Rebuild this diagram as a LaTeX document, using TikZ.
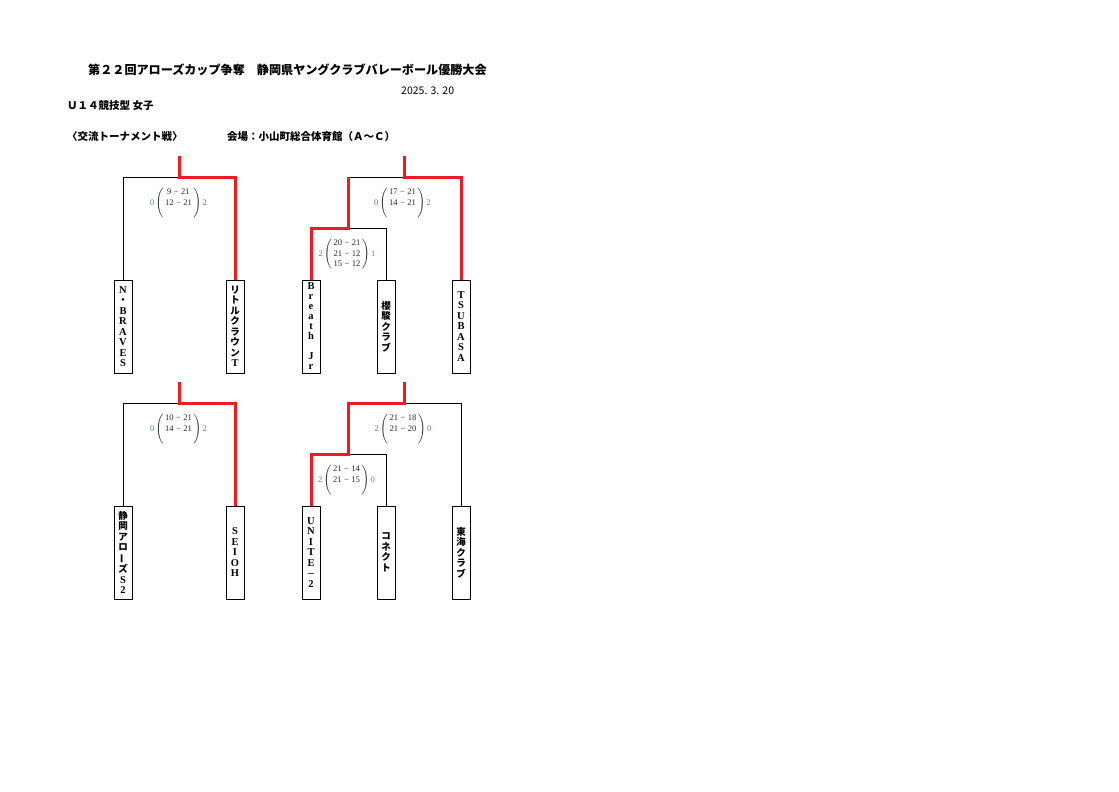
\documentclass[tikz,border=0pt]{standalone}
\usepackage{fontspec}
\usepackage{graphicx}
\newfontfamily\jp{Noto Sans CJK JP}
\newfontfamily\latb{Liberation Serif}
\newcommand\J[1]{{\jp\bfseries\fontsize{9.5}{10.5}\selectfont #1}}
\newcommand\vbar{\rotatebox[origin=c]{90}{\J{ー}}}
\definecolor{brRed}{RGB}{237,28,36}
\definecolor{ablue}{RGB}{68,140,205}
\definecolor{aorange}{RGB}{197,90,17}
\definecolor{scoregray}{RGB}{40,40,40}
\newcommand\mn{\;−\;}
% #1 left number, #2 its colour, #3 rows, #4 right number, #5 its colour
\newcommand\scoreblk[5]{\textcolor{#2}{#1}\,$\left(\mbox{\begin{tabular}{@{\,}c@{\,}}#3\end{tabular}}\right)$\,\textcolor{#5}{#4}}
\begin{document}
\begin{tikzpicture}[x=1pt,y=-1pt,
  blk/.style={line width=0.9pt, draw=black},
  redl/.style={line width=3pt, draw=brRed},
  teambox/.style={draw, line width=0.9pt, minimum width=18pt, minimum height=93pt,
    inner sep=0pt, align=center, font=\latb\bfseries\fontsize{10.5}{10.5}\selectfont},
  score/.style={inner sep=0pt, font=\latb\fontsize{8.6}{10.5}\selectfont, text=scoregray},
  hdr/.style={anchor=base west, inner sep=0pt}
]
\fill[white] (0,0) rectangle (1119,792);
\useasboundingbox (0,0) rectangle (1119,792);

% ---------- headers ----------
\node[hdr, font=\jp\bfseries\fontsize{12.1}{14}\selectfont] (title) at (88,74.5)
  {第２２回アローズカップ争奪　静岡県ヤングクラブバレーボール優勝大会};
\node[hdr, font=\jp\fontsize{10.5}{12}\selectfont] (date) at (401,94) {2025. 3. 20};
\node[hdr, font=\jp\bfseries\fontsize{10.5}{12}\selectfont] (cat) at (67,109) {Ｕ１４競技型 女子};
\node[hdr, font=\jp\bfseries\fontsize{10.5}{12}\selectfont] (mode) at (67,140.5) {〈交流トーナメント戦〉};
\node[hdr, font=\jp\bfseries\fontsize{10.5}{12}\selectfont] (venue) at (227,140.5) {会場：小山町総合体育館（Ａ～Ｃ）};

% ---------- top row team boxes ----------
\node[teambox] (nb) at (123,326.5) {N\\\J{・}\\B\\R\\A\\V\\E\\S};
\node[teambox] (lt) at (235,326.5) {\J{リ}\\\J{ト}\\\J{ル}\\\J{ク}\\\J{ラ}\\\J{ウ}\\\J{ン}\\T};
\node[teambox, font=\latb\bfseries\fontsize{10.5}{10}\selectfont] (br) at (311,326.5) {B\\r\\e\\a\\t\\h\\\mbox{}\\J\\r};
\node[teambox] (sk) at (386,326.5) {\J{櫻}\\\J{駿}\\\J{ク}\\\J{ラ}\\\J{ブ}};
\node[teambox] (ts) at (461,326.5) {T\\S\\U\\B\\A\\S\\A};

% ---------- bottom row team boxes ----------
\node[teambox] (sa) at (123,552.5) {\J{静}\\\J{岡}\\\J{ア}\\\J{ロ}\\\vbar\\\J{ズ}\\S\\2};
\node[teambox] (se) at (235,552.5) {S\\E\\I\\O\\H};
\node[teambox] (un) at (311,552.5) {U\\N\\I\\T\\E\\–\\2};
\node[teambox] (kn) at (386,552.5) {\J{コ}\\\J{ネ}\\\J{ク}\\\J{ト}};
\node[teambox] (tk) at (461,552.5) {\J{東}\\\J{海}\\\J{ク}\\\J{ラ}\\\J{ブ}};

% ---------- junction coordinates ----------
\coordinate (t1) at (179,156);  \coordinate (j1) at (179,177);
\coordinate (t2) at (404,156);  \coordinate (j2) at (404,177);
\coordinate (j3) at (348,177);  \coordinate (j4) at (348,228);
\coordinate (t3) at (179,382);  \coordinate (j5) at (179,403);
\coordinate (t4) at (404,382);  \coordinate (j6) at (404,403);
\coordinate (j7) at (348,403);  \coordinate (j8) at (348,454);

% ---------- top-left bracket ----------
\draw[blk] (nb.north) |- (j1);
\draw[redl] (t1) -- (j1) -| (lt.north);

% ---------- top-right bracket ----------
\draw[blk] (j2) -- (j3);
\draw[blk] (j4) -| (sk.north);
\draw[redl] (t2) -- (j2) -| (ts.north);
\draw[redl] (j3) -- (j4) -| (br.north);

% ---------- bottom-left bracket ----------
\draw[blk] (sa.north) |- (j5);
\draw[redl] (t3) -- (j5) -| (se.north);

% ---------- bottom-right bracket ----------
\draw[blk] (j6) -| (tk.north);
\draw[blk] (j8) -| (kn.north);
\draw[redl] (t4) -- (j6) -- (j7) -- (j8) -| (un.north);

% ---------- scores ----------
\node[score] (s1) at (178.5,203) {\scoreblk{0}{ablue}{9\mn21\\12\mn21\\\mbox{}}{2}{aorange}};
\node[score] (s2) at (402.5,203) {\scoreblk{0}{aorange}{17\mn21\\14\mn21\\\mbox{}}{2}{ablue}};
\node[score] (s3) at (347,254) {\scoreblk{2}{aorange}{20\mn21\\21\mn12\\15\mn12}{1}{ablue}};
\node[score] (s4) at (178.5,429) {\scoreblk{0}{ablue}{10\mn21\\14\mn21\\\mbox{}}{2}{aorange}};
\node[score] (s5) at (403,429) {\scoreblk{2}{aorange}{21\mn18\\21\mn20\\\mbox{}}{0}{ablue}};
\node[score] (s6) at (346.5,480) {\scoreblk{2}{aorange}{21\mn14\\21\mn15\\\mbox{}}{0}{ablue}};
\end{tikzpicture}
\end{document}
